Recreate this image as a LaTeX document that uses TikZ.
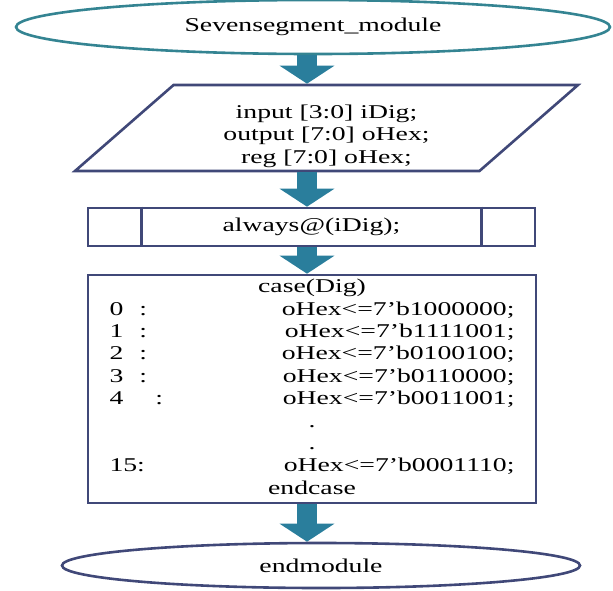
\documentclass[tikz,border=0pt]{standalone}
\usepackage{fontspec}
\setmainfont[FakeStretch=1.42]{Liberation Serif}
\usetikzlibrary{shapes.geometric,arrows.meta}
\definecolor{framecol}{RGB}{64,72,120}
\definecolor{flowcol}{RGB}{42,126,156}
\definecolor{ovalcol}{RGB}{52,132,146}
\begin{document}
\begin{tikzpicture}[x=1pt,y=-1pt,
	font=\fontsize{19.5}{22.4}\selectfont,
	box/.style={draw=framecol,line width=2.6pt,fill=white},
	oval/.style={box,ellipse},
	flow/.style={draw=flowcol,line width=20pt,-{Triangle[length=18pt,width=54pt]}}]
\useasboundingbox (0,0) rectangle (613,590);
\coordinate (spine) at (307,0);
\node[oval,draw=ovalcol,minimum width=594pt,minimum height=54pt] (start) at (313,27) {Sevensegment\_module};
\node[box,trapezium,trapezium left angle=41,trapezium right angle=139,
	trapezium stretches body,minimum width=503pt,minimum height=86pt,align=center] (ports) at (326.5,128)
	{\rule{0pt}{30pt}input [3:0] iDig;\\output [7:0] oHex;\\reg [7:0] oHex;};
\node[box,minimum width=447pt,minimum height=38pt] (always) at (311.5,227) {always@(iDig);};
\draw[framecol,line width=2.6pt] ([xshift=55pt]always.north west) -- ([xshift=55pt]always.south west)
	([xshift=-55pt]always.north east) -- ([xshift=-55pt]always.south east);
\node[box,minimum width=448pt,minimum height=228pt,inner sep=0pt] (cases) at (312,389) {%
	\begin{tabular*}{405pt}{@{}l@{\extracolsep{\fill}}r@{}}
	\multicolumn{2}{c}{case(Dig)}\\
	0\hspace{16pt}: & oHex<=7'b1000000;\\
	1\hspace{16pt}: & oHex<=7'b1111001;\\
	2\hspace{16pt}: & oHex<=7'b0100100;\\
	3\hspace{16pt}: & oHex<=7'b0110000;\\
	4\hspace{32pt}: & oHex<=7'b0011001;\\
	\multicolumn{2}{c}{.}\\
	\multicolumn{2}{c}{.}\\
	15: & oHex<=7'b0001110;\\
	\multicolumn{2}{c}{endcase}
	\end{tabular*}};
\node[oval,minimum width=518pt,minimum height=45pt] (stop) at (321,565.5) {endmodule};
\draw[flow] (start.south -| spine) -- (ports.north -| spine);
\draw[flow] (ports.south -| spine) -- (always.north -| spine);
\draw[flow] (always.south -| spine) -- (cases.north -| spine);
\draw[flow] (cases.south -| spine) -- (stop.north -| spine);
\end{tikzpicture}
\end{document}
